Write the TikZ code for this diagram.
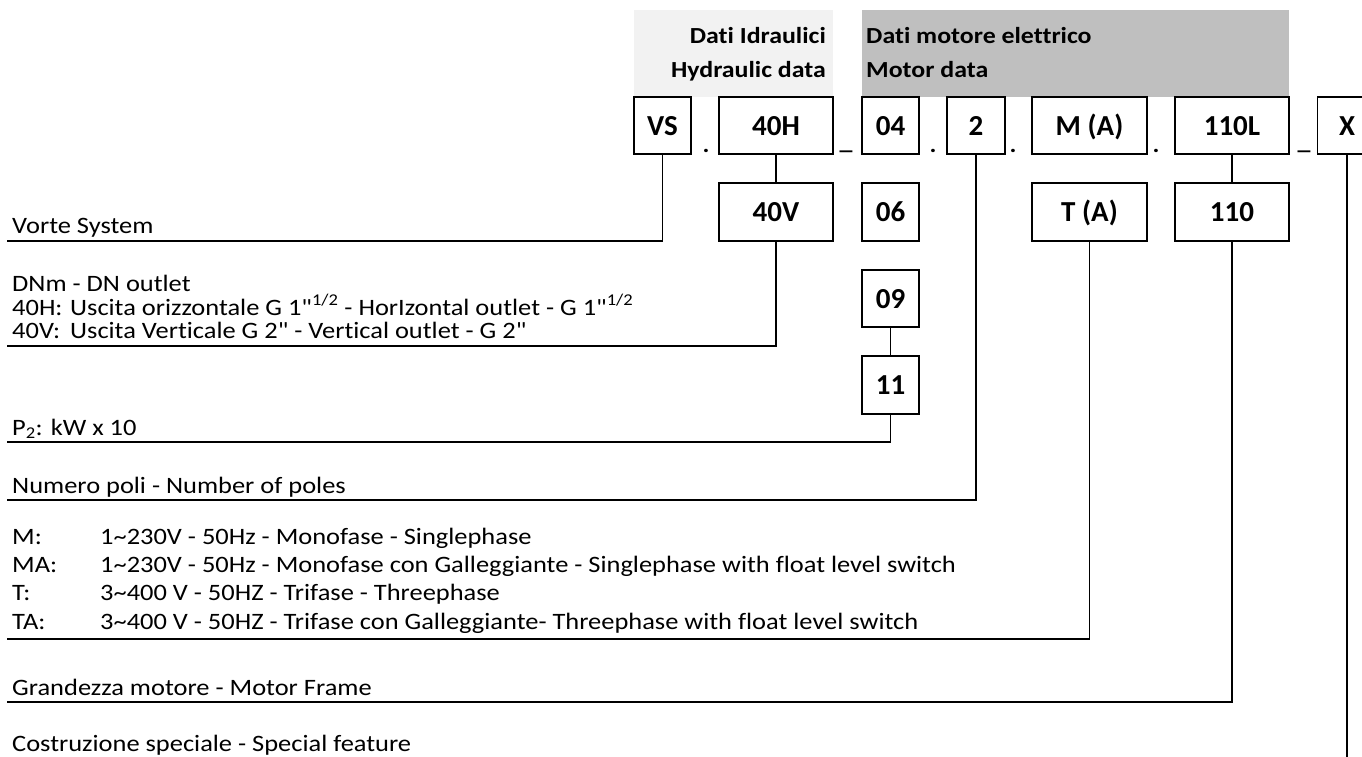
\documentclass[tikz,border=0pt]{standalone}
\usepackage{fontspec}
\setmainfont[FakeStretch=1.125,Ligatures={NoCommon,TeXOff}]{Carlito}
\newfontfamily\boxfont[Ligatures={NoCommon,TeXOff}]{Carlito}
\newcommand{\dq}{\symbol{34}}
\definecolor{lightgr}{HTML}{F2F2F2}
\definecolor{darkgr}{HTML}{BFBFBF}
\tikzset{
  codebox/.style={draw, line width=1.3pt, inner sep=0pt, minimum height=57pt,
    text height=24pt, text depth=5pt,
    font=\boxfont\bfseries\fontsize{29}{32}\selectfont},
  conn/.style={line width=1.3pt},
  desc/.style={anchor=base west, inner sep=0pt, font=\fontsize{23.5}{28}\selectfont},
  hdr/.style={inner sep=0pt, font=\bfseries\fontsize{23}{28}\selectfont},
  sep/.style={anchor=base, inner sep=0pt, font=\bfseries\fontsize{23}{28}\selectfont}
}
\begin{document}
\begin{tikzpicture}[x=1pt,y=-1pt]
\useasboundingbox (0,0) rectangle (1362,756);
\clip (0,0) rectangle (1362,756);
% header backgrounds
\fill[lightgr] (634,10) rectangle (833,97);
\fill[darkgr] (862,10) rectangle (1289,97);
\node[hdr, anchor=base east] (h1) at (826,43) {Dati Idraulici};
\node[hdr, anchor=base east] (h2) at (826,77) {Hydraulic data};
\node[hdr, anchor=base west] (h3) at (866,43) {Dati motore elettrico};
\node[hdr, anchor=base west] (h4) at (866,77) {Motor data};
% row 1 boxes
\node[codebox, minimum width=57pt]  (vs)   at (662.5,125.5) {VS};
\node[codebox, minimum width=114pt] (b40h) at (776,125.5) {40H};
\node[codebox, minimum width=57pt]  (b04)  at (890.5,125.5) {04};
\node[codebox, minimum width=58pt]  (b2)   at (976,125.5) {2};
\node[codebox, minimum width=115pt] (bma)  at (1089.5,125.5) {M (A)};
\node[codebox, minimum width=114pt] (b110l) at (1232,125.5) {110L};
\node[codebox, minimum width=59pt]  (bx)   at (1347,125.5) {X};
% separators
\node[sep] (d1) at (706,152) {.};
\node[sep] (u1) at (846,149) {\_};
\node[sep] (d2) at (933,152) {.};
\node[sep] (d3) at (1013,152) {.};
\node[sep] (d4) at (1156,152) {.};
\node[sep] (u2) at (1304,149) {\_};
% row 2 boxes
\node[codebox, minimum width=114pt, minimum height=58pt] (b40v) at (776,212) {40V};
\node[codebox, minimum width=57pt, minimum height=58pt]  (b06)  at (890.5,212) {06};
\node[codebox, minimum width=115pt, minimum height=58pt] (bta)  at (1089.5,212) {T (A)};
\node[codebox, minimum width=114pt, minimum height=58pt] (b110) at (1232,212) {110};
% 09 and 11
\node[codebox, minimum width=57pt] (b09) at (890.5,298.5) {09};
\node[codebox, minimum width=57pt, minimum height=58pt] (b11) at (890.5,385) {11};
% descriptions
\node[desc] (tvs) at (12,233) {Vorte System};
\node[desc] (tdn) at (12,291) {DNm - DN outlet};
\node[desc] (t40h) at (12,315) {40H:};
\node[desc] (t40ht) at (70,315) {Uscita orizzontale G 1\dq\textsuperscript{1/2} - HorIzontal outlet - G 1\dq\textsuperscript{1/2}};
\node[desc] (t40v) at (12,338) {40V:};
\node[desc] (t40vt) at (70,338) {Uscita Verticale G 2\dq{} - Vertical outlet - G 2\dq};
\node[desc] (tp2) at (12,435) {P\textsubscript{2}: kW x 10};
\node[desc] (tnp) at (12,493) {Numero poli - Number of poles};
\node[desc] (tm) at (12,544) {M:};
\node[desc] (tmt) at (100,544) {1\textasciitilde 230V - 50Hz - Monofase - Singlephase};
\node[desc] (tma) at (12,572) {MA:};
\node[desc] (tmat) at (100,572) {1\textasciitilde 230V - 50Hz - Monofase con Galleggiante - Singlephase with float level switch};
\node[desc] (tt) at (12,600) {T:};
\node[desc] (ttt) at (100,600) {3\textasciitilde 400 V - 50HZ - Trifase - Threephase};
\node[desc] (tta) at (12,629) {TA:};
\node[desc] (ttat) at (100,629) {3\textasciitilde 400 V - 50HZ - Trifase con Galleggiante- Threephase with float level switch};
\node[desc] (tgm) at (12,695) {Grandezza motore - Motor Frame};
\node[desc] (tcs) at (12,751) {Costruzione speciale - Special feature};
% line ends
\coordinate (evs) at (7,241);
\coordinate (e40v) at (7,346);
\coordinate (e11) at (7,442);
\coordinate (e2) at (7,500);
\coordinate (eta) at (7,639);
\coordinate (e110) at (7,702);
\coordinate (ex) at (1347,760);
% connectors
\draw[conn] (vs.south) |- (evs);
\draw[conn] (b40h) -- (b40v);
\draw[conn] (b40v.south) |- (e40v);
\draw[conn] (b09) -- (b11);
\draw[conn] (b11.south) |- (e11);
\draw[conn] (b2.south) |- (e2);
\draw[conn] (bta.south) |- (eta);
\draw[conn] (b110l) -- (b110);
\draw[conn] (b110.south) |- (e110);
\draw[conn] (bx.south) -- (ex);
\end{tikzpicture}
\end{document}
